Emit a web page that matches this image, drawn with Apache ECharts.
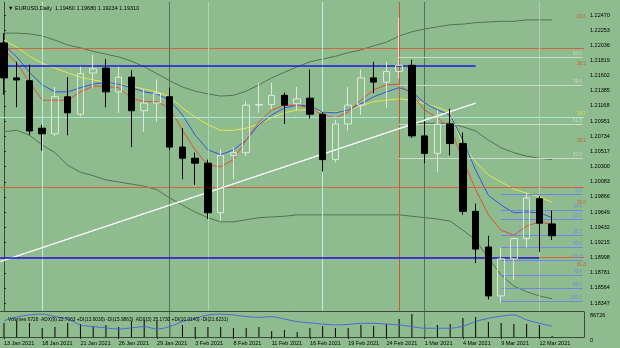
<!DOCTYPE html>
<html>
<head>
<meta charset="utf-8">
<script src="https://cdn.jsdelivr.net/npm/echarts@6/dist/echarts.min.js"></script>
<style>
  html, body { margin: 0; padding: 0; background: #8fbc8f; }
  #chart { width: 620px; height: 348px; }
</style>
</head>
<body>
<div id="chart"></div>
<script>
// EURUSD daily, 13 Jan - 15 Mar 2021
const dates = ['13 Jan 2021','14 Jan 2021','15 Jan 2021','18 Jan 2021','19 Jan 2021','20 Jan 2021','21 Jan 2021','22 Jan 2021',
  '25 Jan 2021','26 Jan 2021','27 Jan 2021','28 Jan 2021','29 Jan 2021','1 Feb 2021','2 Feb 2021','3 Feb 2021','4 Feb 2021',
  '5 Feb 2021','8 Feb 2021','9 Feb 2021','10 Feb 2021','11 Feb 2021','12 Feb 2021','15 Feb 2021','16 Feb 2021','17 Feb 2021',
  '18 Feb 2021','19 Feb 2021','22 Feb 2021','23 Feb 2021','24 Feb 2021','25 Feb 2021','26 Feb 2021','1 Mar 2021','2 Mar 2021',
  '3 Mar 2021','4 Mar 2021','5 Mar 2021','8 Mar 2021','9 Mar 2021','10 Mar 2021','11 Mar 2021','12 Mar 2021','15 Mar 2021'];

// open, high, low, close
const ohlc = [
  [1.2207,1.2221,1.2133,1.2157],[1.2157,1.2180,1.2115,1.2154],[1.2153,1.2176,1.2075,1.2081],[1.2085,1.2090,1.2053,1.2077],
  [1.2077,1.2144,1.2074,1.2130],[1.2130,1.2158,1.2075,1.2107],[1.2105,1.2173,1.2102,1.2163],[1.2164,1.2190,1.2143,1.2170],
  [1.2171,1.2184,1.2115,1.2137],[1.2137,1.2173,1.2107,1.2158],[1.2158,1.2168,1.2058,1.2110],[1.2110,1.2141,1.2080,1.2121],
  [1.2121,1.2155,1.2094,1.2135],[1.2130,1.2143,1.2054,1.2058],[1.2058,1.2085,1.2012,1.2042],[1.2042,1.2050,1.2004,1.2035],
  [1.2035,1.2040,1.1955,1.1964],[1.1964,1.2055,1.1952,1.2046],[1.2046,1.2058,1.2012,1.2050],[1.2050,1.2124,1.2045,1.2118],
  [1.2118,1.2150,1.2107,1.2119],[1.2119,1.2150,1.2112,1.2132],[1.2132,1.2136,1.2091,1.2118],[1.2120,1.2144,1.2110,1.2127],
  [1.2128,1.2169,1.2099,1.2105],[1.2105,1.2108,1.2023,1.2040],[1.2040,1.2097,1.2036,1.2091],[1.2091,1.2144,1.2082,1.2118],
  [1.2118,1.2169,1.2104,1.2157],[1.2157,1.2180,1.2135,1.2151],[1.2151,1.2180,1.2114,1.2166],[1.2166,1.2243,1.2156,1.2175],
  [1.2175,1.2183,1.2071,1.2074],[1.2074,1.2095,1.2035,1.2049],[1.2049,1.2111,1.2022,1.2091],[1.2091,1.2113,1.2046,1.2063],
  [1.2063,1.2079,1.1961,1.1966],[1.1966,1.1977,1.1892,1.1912],[1.1915,1.1931,1.1840,1.1845],[1.1845,1.1914,1.1835,1.1898],
  [1.1898,1.1928,1.1868,1.1927],[1.1927,1.1992,1.1914,1.1985],[1.1984,1.1988,1.1908,1.1949],[1.1948,1.1967,1.1925,1.1931]
];

// bands and moving averages as they sit on the chart ('-' = not visible)
const upperBand = [1.2221,1.2221,1.2220,1.2217,1.2211,1.2204,1.2200,1.2195,1.2191,1.2187,1.2181,1.2173,1.2163,1.2153,1.2144,
  1.2138,1.2134,1.2131,1.2132,1.2138,1.2147,1.2157,1.2165,1.2173,1.2180,1.2184,1.2188,1.2193,1.2197,1.2203,1.2208,1.2217,
  1.2223,1.2227,1.2230,1.2233,1.2234,1.2236,1.2237,1.2238,1.2238,1.2240,1.2240,1.2240];
const middleBand = ['-','-','-','-','-','-','-','-','-','-','-','-','-','-','-','-','-','-','-','-','-','-','-','-','-','-',
  '-','-','-','-','-','-',1.2091,1.2092,1.2092,1.2092,1.2087,1.2081,1.2068,1.2057,1.2050,1.2045,1.2042,1.2040];
const lowerBand = [1.2080,1.2082,1.2075,1.2061,1.2050,1.2032,1.2022,1.2017,1.2011,1.2008,1.2005,1.2002,1.1997,1.1985,1.1975,
  1.1965,1.1957,1.1951,1.1951,1.1954,1.1957,1.1958,1.1959,1.1961,1.1961,1.1961,1.1961,1.1961,1.1961,1.1961,1.1961,1.1961,
  1.1959,1.1957,1.1955,1.1952,1.1939,1.1925,1.1899,1.1875,1.1859,1.1851,1.1845,1.1841];
const maSlow = [1.2211,1.2201,1.2188,1.2178,1.2171,1.2164,1.2158,1.2154,1.2151,1.2148,1.2145,1.2141,1.2137,1.2130,1.2114,
  1.2101,1.2090,1.2082,1.2082,1.2085,1.2091,1.2100,1.2107,1.2111,1.2111,1.2108,1.2108,1.2111,1.2117,1.2123,1.2125,1.2127,
  1.2125,1.2120,1.2115,1.2108,1.2061,1.2037,1.2018,1.2008,1.1998,1.1992,1.1987,1.1979];
const maMid = [1.2204,1.2187,1.2165,1.2147,1.2137,1.2137,1.2143,1.2148,1.2151,1.2148,1.2143,1.2137,1.2134,1.2125,1.2104,
  1.2075,1.2054,1.2047,1.2054,1.2068,1.2090,1.2104,1.2114,1.2118,1.2117,1.2108,1.2107,1.2111,1.2120,1.2130,1.2137,1.2143,
  1.2137,1.2121,1.2111,1.2104,1.2068,1.2025,1.1989,1.1975,1.1964,1.1965,1.1964,1.1957];
const maFast = [1.2197,1.2178,1.2151,1.2125,1.2125,1.2125,1.2137,1.2145,1.2145,1.2143,1.2128,1.2123,1.2123,1.2114,1.2082,
  1.2054,1.2032,1.2030,1.2040,1.2068,1.2094,1.2111,1.2118,1.2118,1.2114,1.2104,1.2100,1.2108,1.2125,1.2140,1.2147,1.2148,
  1.2133,1.2111,1.2100,1.2085,1.2040,1.1997,1.1961,1.1939,1.1932,1.1945,1.1951,1.1947];

const volumes = [48600,55500,48600,31200,34700,48600,45100,38200,41600,34700,55500,59000,55500,48600,41600,34700,34700,
  34700,31200,31200,34700,20800,24300,17300,31200,38200,31200,31200,41600,38200,45100,62400,79800,45100,41600,45100,65900,
  69400,52000,48600,45100,45100,41600,3500];
const adx = [39,48,53,55,49,43,29,25,22,19,22,25,19,25,37,45,53,55,53,49,47,49,43,37,34,31,29,30,33,33,31,29,25,21,21,21,
  26,37,45,50,53,41,33,26];

const priceTicks = [1.22470,1.22253,1.22036,1.21819,1.21602,1.21385,1.21168,1.20951,1.20734,1.20517,1.20300,1.20083,
  1.19866,1.19649,1.19432,1.19215,1.18998,1.18781,1.18564,1.18347];
const volumeTicks = [0, 86726];

// drawn objects
const redLevels = [1.2241, 1.2173, 1.2064, 1.1975, 1.1886];
const redLevelNames = ['23.6', '38.2', '38.2', '50.0', '61.8'];
const lightLevels = [1.2187, 1.2147, 1.2090, 1.2042];
const lightLevelNames = ['50.0', '76.4', '61.8', '50.0'];
const yellowLevels = [1.2102];
const yellowLevelNames = ['38.2'];
const fibLevels = [1.1991, 1.1968, 1.1955, 1.1932, 1.1915, 1.1896, 1.1874, 1.1856, 1.1838];
const fibLevelNames = ['0.0', '14.6', '23.6', '38.2', '50.0', '61.8', '76.4', '88.6', '100.0'];
const cyanLevels = [1.2236, 1.2078, 1.1957];
const lastPrice = 1.19310;
const trendLine = [[-0.3, 1.1894], [37, 1.2121]];
const blueLines = [[[-0.3, 1.2174], [37, 1.2174]], [[-0.3, 1.1900], [42, 1.1900]]];
const fibTrend = [[39, 1.1835], [41, 1.1991]];
const separators = [13, 33];
const markerLines = [[3, '#b8f0dc'], [16, '#a8d8b0'], [25, '#b8f0dc'], [31, '#d0553c'], [42, '#b5c8b5']];

const header = '\u25BC EURUSD,Daily  1.19460 1.19680 1.19234 1.19310';
const subHeader = 'Volumes 6726  ADX(9) 23.7063 +DI(13.9030) -DI(15.9863)  ADX(3) 25.1730 +DI(10.0140) -DI(21.6231)';

const font = 'Liberation Sans';
const rightShift = ['', ''];
const cats = dates.concat(rightShift);
const nBars = cats.length;

const chart = echarts.init(document.getElementById('chart'), null, { renderer: 'canvas' });

function hline(v, color) {
  return { yAxis: v, lineStyle: { color: color, width: 1, type: 'solid' }, label: { show: false } };
}
function seg(a, b, color, width, type, name) {
  return [
    { coord: a, lineStyle: { color: color, width: width, type: type || 'solid' },
      label: name ? { show: true, position: 'insideEndTop', formatter: name, color: color, fontSize: 4.5, fontFamily: font, distance: 1 } : { show: false } },
    { coord: b }
  ];
}
function boxLine(v, bg, fg, text) {
  return {
    yAxis: v,
    lineStyle: { opacity: 0 },
    label: { show: true, position: 'end', distance: 5, formatter: text, backgroundColor: bg, color: fg,
      fontSize: 5.5, fontFamily: font, padding: [0, 2], lineHeight: 6 }
  };
}

const levelLines = [];
redLevels.forEach((v) => levelLines.push(hline(v, '#d8603a')));
yellowLevels.forEach((v) => levelLines.push(hline(v, '#d8d840')));
levelLines.push(hline(cyanLevels[1], '#a8e8d8'));

const drawn = [];
lightLevels.forEach((v, i) => drawn.push(seg([31, v], [45.4, v], '#c8dcc8', 1, 'solid', lightLevelNames[i])));
fibLevels.forEach((v, i) => drawn.push(seg([39, v], [45.4, v], '#6f86e8', 1, 'solid', fibLevelNames[i])));
drawn.push(seg(trendLine[0], trendLine[1], '#ffffff', 1.3, 'solid', null));
blueLines.forEach((l) => drawn.push(seg(l[0], l[1], '#1a1ae6', 1.6, 'solid', null)));
drawn.push(seg(fibTrend[0], fibTrend[1], '#8aa0f0', 1, 'dotted', null));

// text labels for the red / yellow levels at right edge
const levelTextPoints = redLevels.map((v, i) => ({ value: [45.3, v], name: redLevelNames[i], color: '#e04020' }))
  .concat(yellowLevels.map((v, i) => ({ value: [45.3, v], name: yellowLevelNames[i], color: '#e8e830' })));

const option = {
  animation: false,
  backgroundColor: '#8fbc8f',
  textStyle: { fontFamily: font },
  title: [
    { text: header, left: 3, top: 0, textStyle: { fontSize: 5.5, fontWeight: 'normal', color: '#000', fontFamily: font } },
    { text: subHeader, left: 3, top: 312, textStyle: { fontSize: 4.8, fontWeight: 'normal', color: '#000', fontFamily: font } }
  ],
  grid: [
    { left: -2.4, right: 36, top: 2, height: 309, outerBoundsMode: 'none' },
    { left: -2.4, right: 36, top: 312, height: 25, outerBoundsMode: 'none' }
  ],
  xAxis: [
    { type: 'category', gridIndex: 0, data: cats, boundaryGap: true,
      axisLine: { show: true, lineStyle: { color: '#3b4b3b', width: 1 } },
      axisTick: { show: false }, axisLabel: { show: false }, splitLine: { show: false } },
    { type: 'category', gridIndex: 1, data: cats, boundaryGap: true,
      axisLine: { show: true, lineStyle: { color: '#3b4b3b', width: 1 } },
      axisTick: { show: true, alignWithLabel: true, length: 2, interval: (i) => i % 3 === 0 && i < dates.length, lineStyle: { color: '#222' } },
      axisLabel: { show: true, interval: (i) => i % 3 === 0 && i < dates.length, align: 'left', margin: 3,
        fontSize: 5.5, color: '#000', fontFamily: font },
      splitLine: { show: false } },
    { type: 'value', gridIndex: 0, min: -0.5, max: nBars - 0.5, show: false }
  ],
  yAxis: [
    { type: 'value', gridIndex: 0, position: 'right', min: 1.18234, max: 1.22656, scale: true,
      axisLine: { show: true, lineStyle: { color: '#3b4b3b', width: 1 } },
      axisTick: { show: true, length: 2, customValues: priceTicks, lineStyle: { color: '#222' } },
      axisLabel: { show: true, customValues: priceTicks, formatter: (v) => v.toFixed(5), margin: 6,
        fontSize: 5.5, color: '#000', fontFamily: font },
      splitLine: { show: false } },
    { type: 'value', gridIndex: 1, position: 'right', min: 0, max: 86726,
      axisLine: { show: true, lineStyle: { color: '#3b4b3b', width: 1 } },
      axisTick: { show: false },
      axisLabel: { show: true, customValues: volumeTicks, formatter: (v) => String(v), margin: 6, fontSize: 5.5,
        color: '#000', fontFamily: font, verticalAlign: 'top' },
      splitLine: { show: false } },
    { type: 'value', gridIndex: 1, min: 0, max: 60, show: false }
  ],
  series: [
    { type: 'line', name: 'upper', data: upperBand, symbol: 'none', lineStyle: { color: '#53744f', width: 1 }, z: 2 },
    { type: 'line', name: 'middle', data: middleBand, symbol: 'none', lineStyle: { color: '#53744f', width: 1 }, z: 2 },
    { type: 'line', name: 'lower', data: lowerBand, symbol: 'none', lineStyle: { color: '#53744f', width: 1 }, z: 2,
      markLine: { silent: true, symbol: ['none', 'none'], animation: false, data: levelLines.concat(
        separators.map((i) => ({ xAxis: i, lineStyle: { color: '#5c6e5c', width: 1, type: 'solid' }, label: { show: false } })),
        markerLines.map((m) => ({ xAxis: m[0], lineStyle: { color: m[1], width: 1, type: 'solid' }, label: { show: false } }))
      ) } },
    { type: 'line', name: 'slow', data: maSlow, symbol: 'none', lineStyle: { color: '#e6e64a', width: 1 }, z: 3 },
    { type: 'line', name: 'mid', data: maMid, symbol: 'none', lineStyle: { color: '#2f55e6', width: 1 }, z: 3 },
    { type: 'line', name: 'fast', data: maFast, symbol: 'none', lineStyle: { color: '#e0503a', width: 1 }, z: 3 },
    { type: 'line', name: 'drawn', xAxisIndex: 2, yAxisIndex: 0, data: [], z: 4,
      markLine: { silent: true, symbol: ['none', 'none'], animation: false, data: drawn } },
    { type: 'scatter', name: 'levelText', xAxisIndex: 2, yAxisIndex: 0, symbolSize: 0, z: 6,
      data: levelTextPoints.map((p) => ({ value: p.value, label: { show: true, position: 'top', distance: 0,
        formatter: p.name, color: p.color, fontSize: 4.5, fontFamily: font } })) },
    { type: 'candlestick', name: 'EURUSD', data: ohlc.map((d) => [d[0], d[3], d[2], d[1]]), barWidth: 7, z: 5,
      itemStyle: { color: 'rgba(143,188,143,0)', color0: '#000000', borderColor: '#dde8dd', borderColor0: '#000000', borderWidth: 1 },
      markLine: { silent: true, symbol: ['none', 'none'], animation: false, data:
        cyanLevels.map((v) => boxLine(v, '#00ffff', '#00f0f0', v.toFixed(5))).concat([boxLine(lastPrice, '#000', '#fff', lastPrice.toFixed(5))]) } },
    { type: 'bar', name: 'volume', xAxisIndex: 1, yAxisIndex: 1, data: volumes, barWidth: 1, itemStyle: { color: '#000' },
      markLine: { silent: true, symbol: ['none', 'none'], animation: false, label: { show: false },
        data: separators.map((i) => ({ xAxis: i, lineStyle: { color: '#5c6e5c', width: 1, type: 'solid' } })) } },
    { type: 'line', name: 'adx', xAxisIndex: 1, yAxisIndex: 2, data: adx, symbol: 'none', smooth: 0.3,
      lineStyle: { color: '#4a6ad8', width: 1 } }
  ]
};
chart.setOption(option);
</script>
</body>
</html>
